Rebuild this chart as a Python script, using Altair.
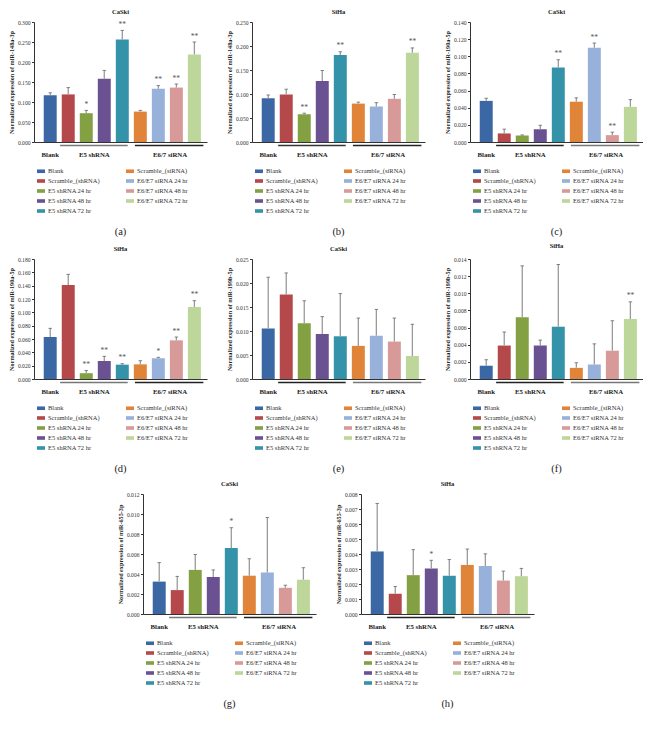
import altair as alt
import pandas as pd

# ---------------- data ----------------
conditions = ["Blank", "Scramble_(shRNA)", "E5 shRNA 24 hr", "E5 shRNA 48 hr", "E5 shRNA 72 hr",
              "Scramble_(siRNA)", "E6/E7 siRNA 24 hr", "E6/E7 siRNA 48 hr", "E6/E7 siRNA 72 hr"]
bar_colors = ["#3B67A4", "#B5484A", "#83A143", "#6A5192", "#3493A9",
              "#E0843A", "#97B1DA", "#D79A98", "#BDD699"]

panel_tags = ["(a)", "(b)", "(c)", "(d)", "(e)", "(f)", "(g)", "(h)"]
cell_lines = ["CaSki", "SiHa", "CaSki", "SiHa", "CaSki", "SiHa", "CaSki", "SiHa"]
mirnas = ["miR-148a-3p", "miR-148a-3p", "miR-190a-5p", "miR-190a-5p",
          "miR-199b-5p", "miR-199b-5p", "miR-655-3p", "miR-655-3p"]
y_max = [0.300, 0.250, 0.140, 0.180, 0.025, 0.014, 0.012, 0.008]
y_step = [0.050, 0.050, 0.020, 0.020, 0.005, 0.002, 0.002, 0.001]

a_vals = [0.117, 0.119, 0.072, 0.158, 0.256, 0.076, 0.133, 0.136, 0.219]
a_errs = [0.006, 0.017, 0.007, 0.021, 0.023, 0.003, 0.008, 0.009, 0.031]
a_sig = ["", "", "*", "", "**", "", "**", "**", "**"]

b_vals = [0.091, 0.099, 0.058, 0.127, 0.181, 0.080, 0.074, 0.090, 0.186]
b_errs = [0.007, 0.011, 0.002, 0.022, 0.007, 0.003, 0.008, 0.009, 0.010]
b_sig = ["", "", "**", "", "**", "", "", "", "**"]

c_vals = [0.048, 0.010, 0.0075, 0.015, 0.087, 0.047, 0.110, 0.008, 0.041]
c_errs = [0.003, 0.005, 0.0008, 0.0045, 0.009, 0.0045, 0.0055, 0.0035, 0.0085]
c_sig = ["", "", "", "", "**", "", "**", "**", ""]

d_vals = [0.063, 0.141, 0.0087, 0.027, 0.0215, 0.022, 0.031, 0.058, 0.108]
d_errs = [0.013, 0.016, 0.004, 0.007, 0.0015, 0.0055, 0.0015, 0.005, 0.0095]
d_sig = ["", "", "**", "**", "**", "", "*", "**", "**"]

e_vals = [0.0105, 0.0176, 0.0116, 0.0094, 0.0089, 0.0069, 0.0090, 0.0078, 0.0048]
e_errs = [0.0107, 0.0045, 0.0047, 0.0036, 0.0089, 0.0058, 0.0055, 0.0049, 0.0066]
e_sig = ["", "", "", "", "", "", "", "", ""]

f_vals = [0.00155, 0.0039, 0.0072, 0.0039, 0.0061, 0.0013, 0.0017, 0.0033, 0.0070]
f_errs = [0.0007, 0.00158, 0.0060, 0.00064, 0.00726, 0.0006, 0.0024, 0.0035, 0.0020]
f_sig = ["", "", "", "", "", "", "", "", "**"]

g_vals = [0.00324, 0.00239, 0.00441, 0.00369, 0.0066, 0.00383, 0.00415, 0.00262, 0.00343]
g_errs = [0.0019, 0.00137, 0.00154, 0.00072, 0.00203, 0.0017, 0.0055, 0.00026, 0.0012]
g_sig = ["", "", "", "", "*", "", "", "", ""]

h_vals = [0.00417, 0.00135, 0.00259, 0.00304, 0.00255, 0.00327, 0.0032, 0.00223, 0.00252]
h_errs = [0.0032, 0.00048, 0.0017, 0.00054, 0.00108, 0.00106, 0.00081, 0.00063, 0.00052]
h_sig = ["", "", "", "*", "", "", "", "", ""]

values = [a_vals, b_vals, c_vals, d_vals, e_vals, f_vals, g_vals, h_vals]
errors = [a_errs, b_errs, c_errs, d_errs, e_errs, f_errs, g_errs, h_errs]
stars = [a_sig, b_sig, c_sig, d_sig, e_sig, f_sig, g_sig, h_sig]

group_names = ["Blank", "E5 shRNA", "E6/7 siRNA"]
group_label_pos = [0.0, 2.45, 6.65]
group_line_start = [0.55, 4.7]
group_line_end = [4.3, 8.5]
group_line_shades = [("#777777", "#222222"), ("#333333", "#222222"), ("#222222", "#777777"),
                     ("#777777", "#222222"), ("#222222", "#777777"), ("#222222", "#777777"),
                     ("#777777", "#222222"), ("#222222", "#777777")]

FONT = "Liberation Serif"
W, H = 173, 120
HALF = 0.36


def make_panel(i):
    df = pd.DataFrame({
        "cond": conditions,
        "pos": list(range(len(conditions))),
        "val": values[i],
        "err": errors[i],
        "sig": stars[i],
    })
    df["lo"] = df["pos"] - HALF
    df["hi"] = df["pos"] + HALF
    df["top"] = df["val"] + df["err"]
    df["zero"] = 0.0

    n_ticks = int(round(y_max[i] / y_step[i]))
    ticks = [round(k * y_step[i], 4) for k in range(n_ticks + 1)]

    xsc = alt.Scale(domain=[-0.9, 8.7], nice=False, zero=False)
    ysc = alt.Scale(domain=[0, y_max[i]], nice=False)
    x_axis = alt.Axis(labels=False, ticks=False, title=None, grid=False,
                      domainColor="#333333", domainWidth=1)
    y_axis = alt.Axis(values=ticks, format=".3f", grid=False, labelOverlap=False,
                      labelFlush=False, labelBound=False, tickCount=len(ticks),
                      title="Normalized expression of " + mirnas[i],
                      titleFont=FONT, titleFontSize=6.2, titleFontWeight="bold",
                      titleColor="#222222", titlePadding=3,
                      labelFont=FONT, labelFontSize=5.6, labelColor="#333333",
                      labelPadding=1.5, tickSize=2.5, tickColor="#333333",
                      domainColor="#333333", domainWidth=1)

    def X(f):
        return alt.X(f, scale=xsc, axis=x_axis)

    def Y(f):
        return alt.Y(f, scale=ysc, axis=y_axis)

    base = alt.Chart(df)
    bars = base.mark_bar().encode(
        x=X("lo:Q"), x2="hi:Q",
        y=Y("val:Q"), y2="zero:Q",
        color=alt.Color("cond:N",
                        scale=alt.Scale(domain=conditions, range=bar_colors),
                        legend=alt.Legend(orient="none", legendX=3, legendY=H + 25,
                                          columns=2, title=None, padding=0,
                                          symbolType="M-1,-0.45H1V0.45H-1Z", symbolSize=64,
                                          symbolStrokeWidth=0, symbolOpacity=1,
                                          labelFont=FONT, labelFontSize=6.5,
                                          labelColor="#333333", labelOffset=3,
                                          columnPadding=26, rowPadding=2.0)),
    )
    err = base.mark_rule(color="#9a9a9a", strokeWidth=1.3).encode(
        x=X("pos:Q"), y=Y("val:Q"), y2="top:Q")
    caps = base.mark_tick(orient="horizontal", size=3.5, thickness=1, color="#555555").encode(
        x=X("pos:Q"), y=Y("top:Q"))
    star_text = base.mark_text(font=FONT, fontSize=7.5, color="#555555",
                               baseline="bottom", dy=-1.5).encode(
        x=X("pos:Q"), y=Y("top:Q"), text="sig:N")

    gl = pd.DataFrame({"s": group_line_start, "e": group_line_end,
                       "shade": list(group_line_shades[i])})
    glines = alt.Chart(gl).mark_rule(strokeWidth=1.4).encode(
        x=X("s:Q"), x2="e:Q", y=alt.value(H + 3.5),
        stroke=alt.Stroke("shade:N", scale=None))
    gt = pd.DataFrame({"name": group_names, "x": group_label_pos})
    glabels = alt.Chart(gt).mark_text(font=FONT, fontSize=6.8, fontWeight="bold",
                                      color="#222222", baseline="middle").encode(
        x=X("x:Q"), y=alt.value(H + 12.5), text="name:N")
    tag = alt.Chart(pd.DataFrame({"t": [panel_tags[i]]})).mark_text(
        font=FONT, fontSize=10.5, color="#222222", baseline="middle").encode(
        x=alt.value(W / 2), y=alt.value(H + 90), text="t:N")

    return alt.layer(bars, err, caps, star_text, glines, glabels, tag).properties(
        width=W, height=H,
        title=alt.TitleParams(cell_lines[i], font=FONT, fontSize=6.5, fontWeight="bold",
                              color="#222222", offset=5, anchor="middle"))


panels = [make_panel(i) for i in range(8)]

row1 = alt.hconcat(panels[0], panels[1], panels[2], spacing=19).resolve_scale(color="independent")
row2 = alt.hconcat(panels[3], panels[4], panels[5], spacing=19).resolve_scale(color="independent")
row3 = alt.hconcat(panels[6], panels[7], spacing=19).resolve_scale(color="independent")

chart = alt.vconcat(row1, row2, row3, spacing=5, center=True).resolve_scale(
    color="independent").properties(padding=0).configure_view(stroke=None)

chart.save("out.html", embed_options={"renderer": "svg", "actions": False})
